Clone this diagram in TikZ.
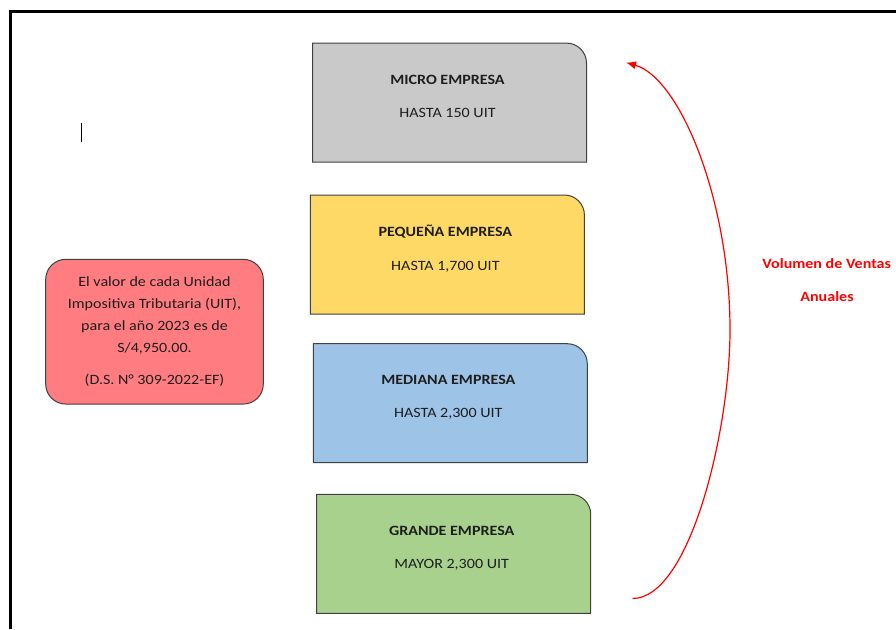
\documentclass[tikz,border=0pt]{standalone}
\usepackage{fontspec}
\setmainfont{Carlito}[FakeStretch=1.13]
\usetikzlibrary{arrows.meta}
\definecolor{microgray}{HTML}{C9C9C9}
\definecolor{pyellow}{HTML}{FFD966}
\definecolor{mblue}{HTML}{9DC3E6}
\definecolor{ggreen}{HTML}{A9D18E}
\definecolor{uitred}{HTML}{FF7C80}
\definecolor{edgegray}{HTML}{404040}
\definecolor{txtcol}{HTML}{1E1E1E}
\definecolor{arrowred}{HTML}{FF0000}
\newcommand\cornerbox[2]{%
  \filldraw[boxedge, fill=#2] (#1.south west) -- (#1.north west)
    -- ([xshift=-20pt]#1.north east)
    .. controls ([xshift=-9pt]#1.north east) and ([yshift=-9pt]#1.north east) ..
    ([yshift=-20pt]#1.north east) -- (#1.south east) -- cycle;}
\tikzset{
  boxgeom/.style={rectangle, draw=none, inner sep=0pt, outer sep=0pt,
    minimum width=274pt, minimum height=119pt},
  boxedge/.style={draw=edgegray, line width=1pt},
  titletext/.style={anchor=base, inner sep=0pt, text=txtcol,
    font=\fontsize{14.2}{17}\selectfont\bfseries},
  valuetext/.style={anchor=base, inner sep=0pt, text=txtcol,
    font=\fontsize{14.2}{17}\selectfont},
  notebox/.style={rectangle, rounded corners=20pt, draw=edgegray, line width=1pt,
    fill=uitred, inner sep=0pt, minimum width=217.6pt, minimum height=144.7pt,
    align=center, text=txtcol, font=\fontsize{14.2}{22}\selectfont},
  voltext/.style={anchor=base, inner sep=0pt, text=arrowred,
    font=\fontsize{14.2}{17}\selectfont\bfseries},
  arrowline/.style={draw=arrowred, line width=1.2pt,
    -{Latex[length=10pt,width=8pt]}},
  framebar/.style={draw=black, line width=3.2pt},
}
\begin{document}
\begin{tikzpicture}[x=1pt,y=-1pt]
\useasboundingbox (0,0) rectangle (896,629);
% frame
\coordinate (frameBL) at (10.7,629);
\coordinate (frameTL) at (10.7,11.7);
\coordinate (frameTR) at (896,11.7);
\draw[framebar] (frameBL) -- (frameTL) -- (frameTR);
% text cursor
\coordinate (cursorTop) at (81.3,123.3);
\coordinate (cursorBot) at (81.3,142.3);
\draw[line width=1pt] (cursorTop) -- (cursorBot);

% boxes
\node[boxgeom] (micro) at (449.5,102.6) {};
\cornerbox{micro}{microgray}
\node[titletext] (microT) at ([xshift=-2pt,yshift=-41pt]micro.north) {MICRO EMPRESA};
\node[valuetext] (microV) at ([xshift=-2pt,yshift=-74pt]micro.north) {HASTA 150 UIT};

\node[boxgeom] (pequena) at (447.4,254.5) {};
\cornerbox{pequena}{pyellow}
\node[titletext] (pequenaT) at ([xshift=-2pt,yshift=-41pt]pequena.north) {PEQUEÑA EMPRESA};
\node[valuetext] (pequenaV) at ([xshift=-2pt,yshift=-75pt]pequena.north) {HASTA 1,700 UIT};

\node[boxgeom] (mediana) at (450.3,403.2) {};
\cornerbox{mediana}{mblue}
\node[titletext] (medianaT) at ([xshift=-2pt,yshift=-41pt]mediana.north) {MEDIANA EMPRESA};
\node[valuetext] (medianaV) at ([xshift=-2pt,yshift=-74pt]mediana.north) {HASTA 2,300 UIT};

\node[boxgeom] (grande) at (453.7,553.8) {};
\cornerbox{grande}{ggreen}
\node[titletext] (grandeT) at ([xshift=-2pt,yshift=-41pt]grande.north) {GRANDE EMPRESA};
\node[valuetext] (grandeV) at ([xshift=-2pt,yshift=-74pt]grande.north) {MAYOR 2,300 UIT};

% UIT note
\node[notebox] (uit) at (154.5,331.7) {El valor de cada Unidad\\Impositiva Tributaria (UIT),\\para el año 2023 es de\\S/4,950.00.\\[10.4pt](D.S. N° 309-2022-EF)};

% arrow
\coordinate (arrowStart) at (632.5,598.5);
\coordinate (arrowMid) at (730,330);
\coordinate (arrowEnd) at (626,62.5);
\draw[arrowline] (arrowStart) .. controls (690,598.5) and (730,430) .. (arrowMid)
  .. controls (730,200) and (680,78) .. (arrowEnd);

\node[voltext] (vol1) at (826.7,268.3) {Volumen de Ventas};
\node[voltext] (vol2) at (827,301.7) {Anuales};
\end{tikzpicture}
\end{document}
